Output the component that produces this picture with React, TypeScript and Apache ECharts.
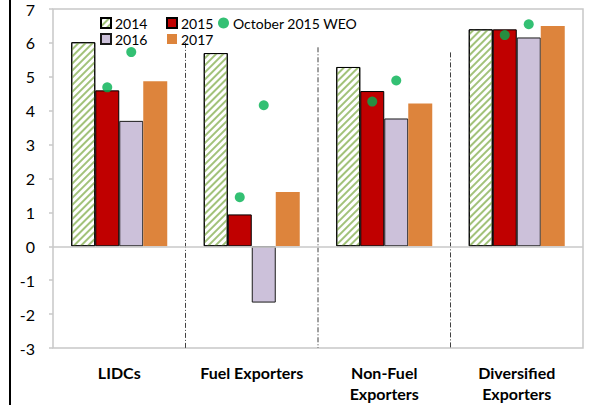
import React, { useEffect, useRef } from "react";
import * as echarts from "echarts";

const categories = ["LIDCs", "Fuel Exporters", "Non-Fuel\nExporters", "Diversified\nExporters"];
const values2014 = [6.02, 5.7, 5.29, 6.4];
const values2015 = [4.6, 0.94, 4.58, 6.4];
const values2016 = [3.7, -1.66, 3.77, 6.16];
const values2017 = [4.87, 1.6, 4.21, 6.5];
const weo2015 = [4.69, 1.45, 4.27, 6.23];
const weo2016 = [5.73, 4.16, 4.89, 6.55];
const separatorTops = [6.0, 5.87, 5.72];
const yMin = -3;
const yMax = 7;

const FONT = "Lato";
const BAR_W = 24;

export default function App() {
  const ref = useRef<HTMLDivElement>(null);
  useEffect(() => {
    if (!ref.current) return;
    const chart = echarts.init(ref.current, null, { renderer: "svg" });
    const legendBase = {
      orient: "vertical",
      top: 15,
      padding: 0,
      itemWidth: 10,
      itemHeight: 10,
      itemGap: 0,
      textStyle: { fontFamily: FONT, fontSize: 14, color: "#000", lineHeight: 16, padding: [0, 0, 0, -1] },
      selectedMode: false,
    };
    chart.setOption({
      animation: false,
      backgroundColor: "#fff",
      textStyle: { fontFamily: FONT },
      grid: {
        left: 53,
        right: 13,
        top: 9,
        bottom: 57,
        show: true,
        borderColor: "#C8C8C8",
        borderWidth: 1.5,
        backgroundColor: "#fff",
      },
      legend: [
        { ...legendBase, left: 100, data: [{ name: "2014", icon: "rect" }, { name: "2016", icon: "rect" }] },
        { ...legendBase, left: 166, data: [{ name: "2015", icon: "rect" }, { name: "2017", icon: "rect" }] },
        { ...legendBase, left: 218, itemWidth: 11, itemHeight: 11, data: [{ name: "October 2015 WEO", icon: "circle" }] },
      ],
      xAxis: {
        type: "category",
        data: categories,
        axisLine: { show: false, onZero: false },
        axisTick: { show: false },
        axisLabel: {
          fontFamily: FONT,
          fontSize: 16,
          fontWeight: "bold",
          color: "#000",
          lineHeight: 21,
          margin: 14,
          interval: 0,
        },
      },
      yAxis: {
        type: "value",
        min: yMin,
        max: yMax,
        interval: 1,
        axisLine: { show: false },
        axisTick: { show: true, length: 4, lineStyle: { color: "#C8C8C8", width: 1.5 } },
        splitLine: { show: false },
        axisLabel: { fontFamily: FONT, fontSize: 16, color: "#000", margin: 18 },
      },
      graphic: [
        {
          type: "line",
          shape: { x1: 10, y1: 0, x2: 10, y2: 405 },
          style: { stroke: "#000", lineWidth: 2 },
        },
      ],
      series: [
        {
          name: "2014",
          type: "bar",
          data: values2014,
          barWidth: BAR_W,
          barGap: "0%",
          itemStyle: {
            color: "#fff",
            borderColor: "#000",
            borderWidth: 1,
            decal: {
              symbol: "rect",
              symbolSize: 1,
              color: "#A2C27A",
              dashArrayX: [1, 0],
              dashArrayY: [2, 3],
              rotation: -Math.PI / 4,
            },
          },
          markLine: {
            silent: true,
            symbol: "none",
            label: { show: false },
            lineStyle: { color: "#C8C8C8", width: 1.5, type: "solid" },
            data: [{ yAxis: 0 }],
          },
        },
        {
          name: "2015",
          type: "bar",
          data: values2015,
          barWidth: BAR_W,
          barGap: "0%",
          itemStyle: { color: "#C00000", borderColor: "#000", borderWidth: 1 },
        },
        {
          name: "2016",
          type: "bar",
          data: values2016,
          barWidth: BAR_W,
          barGap: "0%",
          itemStyle: { color: "#CCC1DA", borderColor: "#1a1a1a", borderWidth: 1 },
        },
        {
          name: "2017",
          type: "bar",
          data: values2017,
          barWidth: BAR_W,
          barGap: "0%",
          itemStyle: { color: "#DD843C" },
        },
        {
          name: "October 2015 WEO",
          type: "scatter",
          data: weo2015,
          symbol: "circle",
          symbolSize: 10,
          symbolOffset: [-BAR_W / 2, 0],
          itemStyle: { color: "#00B050" },
          z: 5,
        },
        {
          name: "October 2015 WEO",
          type: "scatter",
          data: weo2016,
          symbol: "circle",
          symbolSize: 10,
          symbolOffset: [BAR_W / 2, 0],
          itemStyle: { color: "#00B050" },
          z: 5,
        },
        {
          name: "separators",
          type: "custom",
          silent: true,
          data: separatorTops.map((t, i) => [i + 1, t]),
          renderItem: (params: any, api: any) => {
            const bandW = api.size([1, 0])[0];
            const x = api.coord([api.value(0), 0])[0] - bandW / 2;
            const top = api.coord([api.value(0), api.value(1)])[1];
            const bottom = api.coord([api.value(0), yMin])[1];
            return {
              type: "line",
              shape: { x1: x, y1: top, x2: x, y2: bottom },
              style: { stroke: "#404040", lineWidth: 1, lineDash: [5, 2, 1, 2] },
            };
          },
          z: 1,
        },
      ],
    });
    return () => chart.dispose();
  }, []);
  return <div ref={ref} style={{ position: "fixed", left: 0, top: 0, width: 596, height: 405 }} />;
}
